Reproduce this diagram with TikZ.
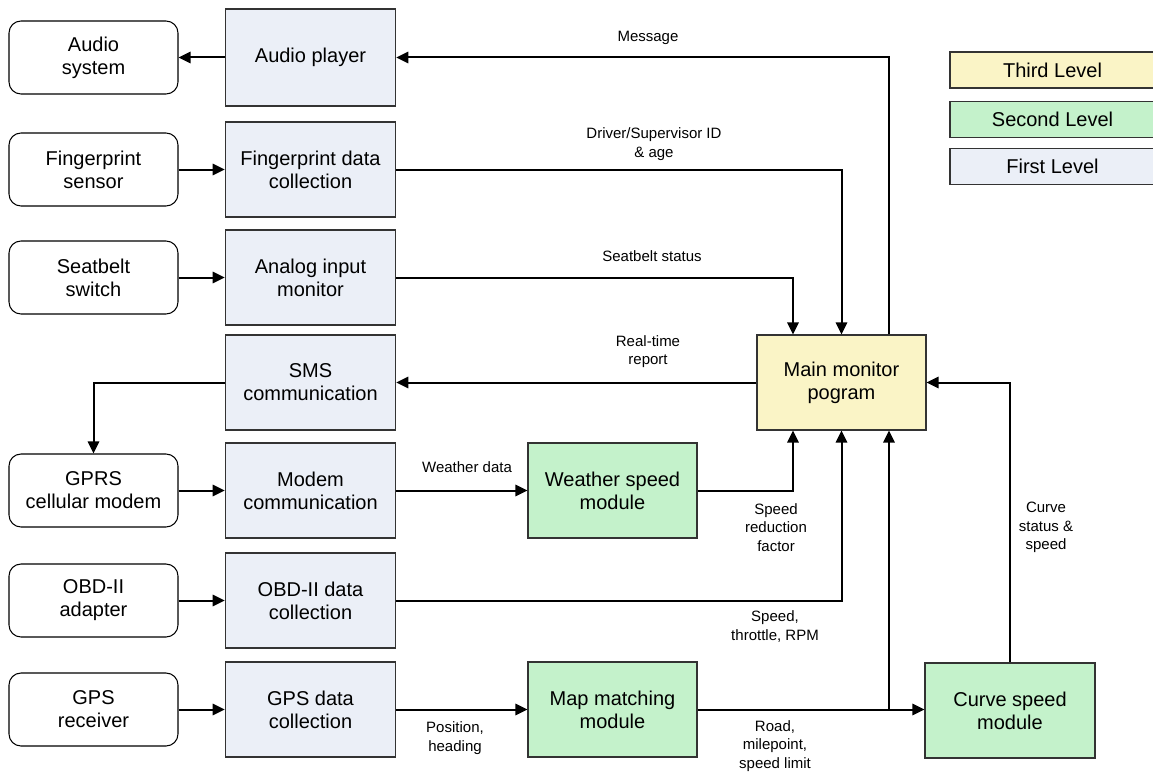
\documentclass[tikz,border=0pt]{standalone}
\usepackage{fontspec}
\setmainfont{Liberation Sans}
\usetikzlibrary{arrows.meta,calc}
\definecolor{lvlone}{HTML}{EBEFF7}
\definecolor{lvltwo}{HTML}{C4F2CB}
\definecolor{lvlthree}{HTML}{FAF4C6}
\definecolor{bordgray}{HTML}{333333}
\tikzset{
  boxtext/.style={font=\fontsize{15}{17.25}\selectfont, align=center, inner sep=0pt, text=black},
  devbox/.style={boxtext, draw=black, line width=0.8pt, rounded corners=9pt, fill=white, minimum width=126.75pt, minimum height=54.75pt},
  lvlbox/.style={boxtext, draw=bordgray, line width=0.8pt, minimum width=128pt, minimum height=71.25pt},
  firstbox/.style={lvlbox, fill=lvlone},
  secondbox/.style={lvlbox, fill=lvltwo},
  thirdbox/.style={lvlbox, fill=lvlthree},
  legbox/.style={boxtext, draw=bordgray, line width=0.8pt, minimum width=153.75pt, minimum height=27pt},
  lbl/.style={font=\fontsize{11.25}{13.9}\selectfont, align=center, inner sep=0pt},
  arr/.style={line width=1.5pt, -{Triangle[length=9pt,width=8.5pt]}},
  plain/.style={line width=1.5pt}
}
\begin{document}
\begin{tikzpicture}[x=0.75pt,y=-0.75pt]
\useasboundingbox (0,0) rectangle (1153,774);

% left devices
\node[devbox] (asys) at (93.5,57.5) {Audio\\system};
\node[devbox] (fsen) at (93.5,169.5) {Fingerprint\\sensor};
\node[devbox] (sbsw) at (93.5,277.5) {Seatbelt\\switch};
\node[devbox] (gprs) at (93.5,490.5) {GPRS\\cellular modem};
\node[devbox] (obda) at (93.5,600.5) {OBD-II\\adapter};
\node[devbox] (gpsr) at (93.5,709.5) {GPS\\receiver};

% first level
\node[firstbox, minimum height=72.75pt] (ap) at (310.5,57.5) {Audio player};
\node[firstbox] (fpd) at (310.5,169.5) {Fingerprint data\\collection};
\node[firstbox] (aim) at (310.5,277.5) {Analog input\\monitor};
\node[firstbox] (sms) at (310.5,382.5) {SMS\\communication};
\node[firstbox] (mod) at (310.5,490.5) {Modem\\communication};
\node[firstbox] (obd) at (310.5,600.5) {OBD-II data\\collection};
\node[firstbox] (gpd) at (310.5,709.5) {GPS data\\collection};

% second / third level
\node[thirdbox, minimum width=126.75pt] (main) at (841.5,382.5) {Main monitor\\pogram};
\node[secondbox, minimum width=126.75pt] (wsm) at (612.5,490.5) {Weather speed\\module};
\node[secondbox, minimum width=126.75pt] (mmm) at (612.5,709.5) {Map matching\\module};
\node[secondbox, minimum width=127.5pt] (csm) at (1010,710.5) {Curve speed\\module};

% legend
\node[legbox, fill=lvlthree] (leg3) at (1052.5,70) {Third Level};
\node[legbox, fill=lvltwo] (leg2) at (1052.5,119.5) {Second Level};
\node[legbox, fill=lvlone] (leg1) at (1052.5,166.5) {First Level};

% named turning points
\coordinate (mtr) at ($(main.north)+(47.5,0)$);
\coordinate (mtl) at ($(main.north)+(-48.5,0)$);
\coordinate (mbr) at ($(main.south)+(47.5,0)$);
\coordinate (mbl) at ($(main.south)+(-48.5,0)$);
\coordinate (junc) at (mbr |- mmm.east);

% connectors
\draw[arr] (mtr) |- (ap.east);
\draw[arr] (ap.west) -- (asys.east);
\draw[arr] (fsen.east) -- (fpd.west);
\draw[arr] (fpd.east) -| (main.north);
\draw[arr] (sbsw.east) -- (aim.west);
\draw[arr] (aim.east) -| (mtl);
\draw[arr] (main.west) -- (sms.east);
\draw[arr] (sms.west) -| (gprs.north);
\draw[arr] (gprs.east) -- (mod.west);
\draw[arr] (mod.east) -- (wsm.west);
\draw[arr] (wsm.east) -| (mbl);
\draw[arr] (obda.east) -- (obd.west);
\draw[arr] (obd.east) -| (main.south);
\draw[arr] (gpsr.east) -- (gpd.west);
\draw[arr] (gpd.east) -- (mmm.west);
\draw[arr] (mmm.east) -- (mmm.east -| csm.west);
\draw[arr] (junc) -- (mbr);
\draw[arr] (csm.north) |- (main.east);

% labels
\node[lbl] (lmsg) at (648,38) {Message};
\node[lbl] (ldrv) at (654,144) {Driver/Supervisor ID\\\& age};
\node[lbl] (lsbs) at (652,256) {Seatbelt status};
\node[lbl] (lrtr) at (648,351.5) {Real-time\\report};
\node[lbl] (lwd) at (467,467) {Weather data};
\node[lbl] (lsrf) at (776,527.5) {Speed\\reduction\\factor};
\node[lbl] (lstr) at (775,626.5) {Speed,\\throttle, RPM};
\node[lbl] (lpos) at (455,738) {Position,\\heading};
\node[lbl] (lroad) at (775,746) {Road,\\milepoint,\\speed limit};
\node[lbl] (lcur) at (1046,527.5) {Curve\\status \&\\speed};
\end{tikzpicture}
\end{document}
